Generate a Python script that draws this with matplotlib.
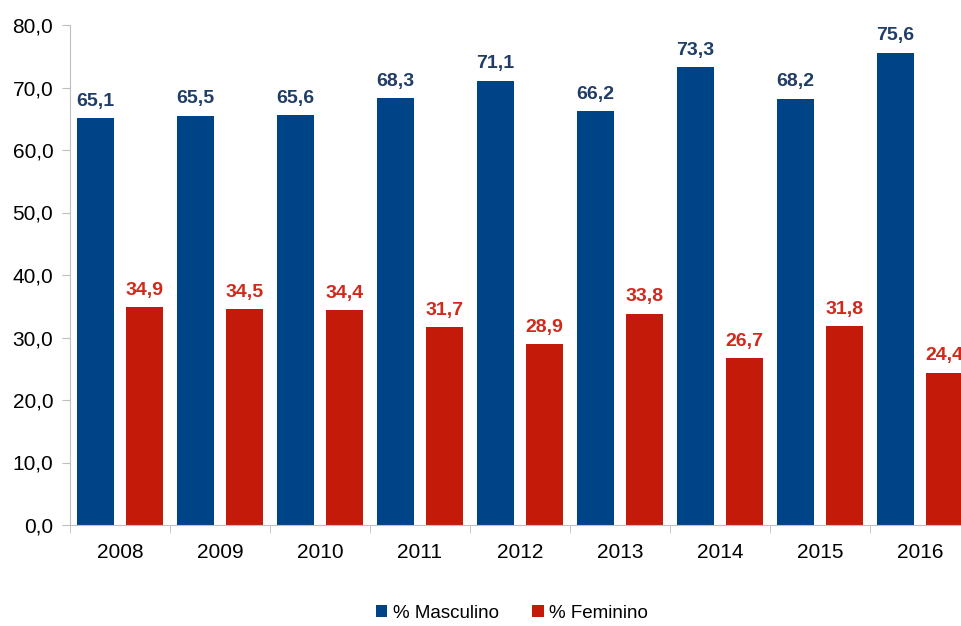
import matplotlib.pyplot as plt
import numpy as np

YEARS = ["2008", "2009", "2010", "2011", "2012", "2013", "2014", "2015", "2016"]
MASCULINO = [65.1, 65.5, 65.6, 68.3, 71.1, 66.2, 73.3, 68.2, 75.6]
FEMININO = [34.9, 34.5, 34.4, 31.7, 28.9, 33.8, 26.7, 31.8, 24.4]

BLUE = "#004488"
RED = "#C41A0A"
BLUE_TXT = "#1F3D66"
RED_TXT = "#D02A1C"
GRID = "#BFBFBF"

plt.rcParams["font.family"] = ["Liberation Sans", "DejaVu Sans"]

fig = plt.figure(figsize=(9.61, 6.26), dpi=100)
ax = fig.add_axes([70 / 961, 101 / 626, 900 / 961, 500 / 626])

x = np.arange(len(YEARS))
w = 0.37
b1 = ax.bar(x - 0.245, MASCULINO, w, color=BLUE, label="% Masculino")
b2 = ax.bar(x + 0.245, FEMININO, w, color=RED, label="% Feminino")

ax.bar_label(b1, labels=[f"{v:.1f}".replace(".", ",") for v in MASCULINO], padding=6,
             color=BLUE_TXT, fontsize=14, fontweight="bold")
ax.bar_label(b2, labels=[f"{v:.1f}".replace(".", ",") for v in FEMININO], padding=6,
             color=RED_TXT, fontsize=14, fontweight="bold")

ax.set_xlim(-0.5, len(YEARS) - 0.5)
ax.set_ylim(0, 80)
ax.set_yticks(np.arange(0, 81, 10))
ax.set_yticklabels([f"{v:.1f}".replace(".", ",") for v in np.arange(0, 81, 10)], fontsize=15)
ax.set_xticks(x)
ax.set_xticklabels(YEARS, fontsize=15)
ax.set_xticks(np.arange(-0.5, len(YEARS), 1), minor=True)
ax.tick_params(axis="x", which="major", length=0, pad=13)
ax.tick_params(axis="x", which="minor", length=6, color=GRID)
ax.tick_params(axis="y", length=6, color=GRID, pad=6)

for s in ["top", "right"]:
    ax.spines[s].set_visible(False)
for s in ["left", "bottom"]:
    ax.spines[s].set_color(GRID)

fig.legend(handles=[b1, b2], loc="center", bbox_to_anchor=(512 / 961, 1 - 613 / 626),
           ncol=2, frameon=False, fontsize=13.5, handlelength=0.6, handleheight=0.6,
           handletextpad=0.3, columnspacing=1.8)

fig.savefig("out.png", dpi=100)
